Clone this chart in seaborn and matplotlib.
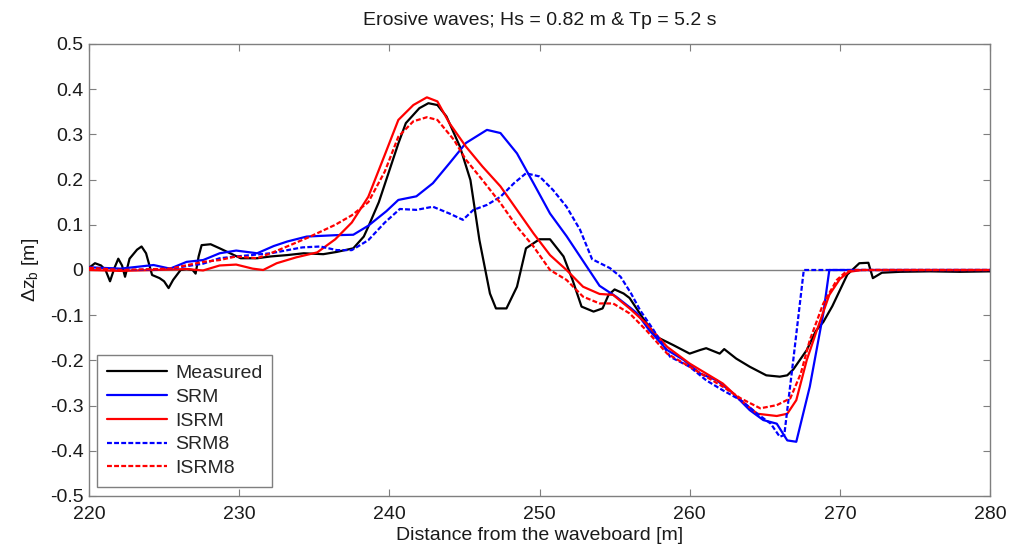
import numpy as np
import pandas as pd
import matplotlib
matplotlib.use("Agg")
import matplotlib.pyplot as plt
import seaborn as sns

# ---------------- data ----------------
meas_x = [220.0, 220.4, 220.8, 221.1, 221.4, 221.7, 221.95, 222.2, 222.4, 222.7, 223.2, 223.5, 223.8,
          224.2, 224.7, 225.0, 225.3, 225.6, 226.1, 226.5, 226.9, 227.1, 227.3, 227.5, 228.1, 228.7,
          229.4, 230.1, 231.2, 232.1, 233.2, 234.3, 235.6, 236.5, 237.6, 238.3, 238.6, 239.3, 240.0,
          240.6, 241.1, 242.0, 242.6, 243.2, 243.8, 244.7, 245.4, 246.0, 246.7, 247.1, 247.8, 248.5,
          249.1, 250.0, 250.7, 251.6, 252.2, 252.8, 253.6, 254.2, 254.6, 255.0, 255.6, 256.0, 256.9,
          257.8, 258.9, 260.0, 260.7, 261.1, 262.0, 262.3, 263.1, 264.0, 265.1, 266.0, 266.5, 266.9,
          267.8, 268.4, 268.9, 269.5, 270.0, 270.5, 271.3, 271.9, 272.2, 272.8, 274.0, 276.0, 278.0, 280.0]
meas_y = [0.005, 0.015, 0.010, 0.0, -0.025, 0.005, 0.025, 0.010, -0.015, 0.025, 0.045, 0.052, 0.037,
          -0.011, -0.018, -0.025, -0.040, -0.022, 0.0, 0.002, 0.0, -0.008, 0.03, 0.055, 0.057, 0.048,
          0.037, 0.026, 0.026, 0.030, 0.033, 0.037, 0.035, 0.040, 0.048, 0.074, 0.096, 0.15, 0.22,
          0.28, 0.325, 0.358, 0.369, 0.365, 0.340, 0.273, 0.199, 0.066, -0.052, -0.085, -0.085, -0.037,
          0.048, 0.068, 0.068, 0.030, -0.022, -0.081, -0.092, -0.085, -0.055, -0.043, -0.052, -0.062, -0.107,
          -0.148, -0.166, -0.185, -0.177, -0.173, -0.185, -0.175, -0.196, -0.214, -0.233, -0.236, -0.233, -0.220,
          -0.177, -0.135, -0.115, -0.080, -0.045, -0.010, 0.015, 0.016, -0.018, -0.006, -0.004, -0.003, -0.004, -0.003]

srm_x = [220.0, 222.1, 224.3, 225.4, 226.5, 227.6, 228.7, 229.8, 231.2, 232.3, 233.2, 234.5, 236.4,
         237.6, 238.6, 239.8, 240.6, 241.8, 242.9, 244.0, 245.1, 246.5, 247.4, 248.5, 249.6, 250.7,
         251.8, 252.9, 254.0, 255.1, 256.1, 256.5, 257.3, 258.5, 259.6, 260.7, 261.8, 262.9, 264.0,
         264.9, 265.8, 266.5, 267.1, 268.0, 268.9, 269.3, 280.0]
srm_y = [0.006, 0.003, 0.011, 0.003, 0.018, 0.022, 0.037, 0.043, 0.037, 0.053, 0.063, 0.074, 0.077,
         0.078, 0.098, 0.130, 0.155, 0.163, 0.192, 0.236, 0.281, 0.310, 0.303, 0.258, 0.192, 0.125,
         0.075, 0.020, -0.035, -0.059, -0.085, -0.096, -0.133, -0.177, -0.199, -0.229, -0.244, -0.273, -0.310,
         -0.332, -0.340, -0.377, -0.380, -0.258, -0.096, 0.0, 0.0]

isrm_x = [220.0, 222.1, 224.3, 226.5, 227.6, 228.7, 229.8, 230.9, 231.6, 232.5, 233.8, 235.2, 236.4,
          237.5, 238.6, 239.7, 240.6, 241.6, 242.5, 243.2, 244.0, 245.1, 246.2, 247.4, 248.5, 249.6,
          250.7, 251.8, 252.9, 254.0, 254.9, 256.0, 257.1, 258.5, 260.0, 261.1, 262.2, 263.4, 264.5,
          265.8, 266.5, 267.1, 267.8, 268.4, 269.3, 270.0, 270.6, 271.5, 280.0]
isrm_y = [0.0, -0.002, 0.0, 0.002, -0.001, 0.010, 0.012, 0.003, 0.0, 0.015, 0.028, 0.039, 0.068,
          0.105, 0.162, 0.255, 0.332, 0.365, 0.382, 0.373, 0.325, 0.273, 0.229, 0.185, 0.133, 0.081,
          0.033, 0.0, -0.037, -0.053, -0.055, -0.085, -0.118, -0.170, -0.207, -0.229, -0.251, -0.288, -0.318,
          -0.323, -0.318, -0.288, -0.199, -0.140, -0.055, -0.020, -0.004, 0.0, 0.0]

srm8_x = [220.0, 223.2, 225.4, 227.6, 228.7, 229.8, 232.1, 234.2, 235.4, 236.5, 237.5, 238.6, 239.7,
          240.7, 241.8, 242.9, 244.0, 244.9, 245.6, 246.5, 247.4, 248.3, 249.1, 250.0, 250.9, 251.8,
          252.7, 253.5, 254.7, 255.4, 256.1, 256.7, 257.6, 258.7, 260.0, 261.1, 262.2, 263.4, 264.5,
          265.4, 266.0, 266.3, 266.9, 267.6, 280.0]
srm8_y = [0.005, 0.0, 0.003, 0.014, 0.026, 0.030, 0.037, 0.050, 0.052, 0.044, 0.044, 0.066, 0.105,
          0.135, 0.133, 0.140, 0.125, 0.111, 0.133, 0.144, 0.162, 0.192, 0.214, 0.207, 0.177, 0.140,
          0.089, 0.024, 0.004, -0.015, -0.052, -0.089, -0.133, -0.192, -0.214, -0.244, -0.266, -0.288, -0.318,
          -0.340, -0.369, -0.365, -0.199, 0.0, 0.0]

isrm8_x = [220.0, 222.1, 225.4, 227.6, 228.7, 229.8, 231.2, 232.1, 233.4, 234.6, 236.4, 237.5, 238.6,
           239.7, 240.6, 241.6, 242.5, 243.2, 244.3, 245.1, 246.2, 247.4, 248.5, 249.6, 250.7, 251.8,
           252.9, 254.0, 254.9, 256.0, 257.1, 258.5, 260.0, 261.1, 262.2, 263.4, 264.7, 265.8, 266.7,
           267.4, 268.0, 268.9, 269.8, 270.4, 271.0, 280.0]
isrm8_y = [0.005, 0.0, 0.003, 0.018, 0.022, 0.030, 0.026, 0.037, 0.055, 0.072, 0.100, 0.121, 0.150,
           0.218, 0.295, 0.329, 0.338, 0.332, 0.288, 0.244, 0.199, 0.148, 0.096, 0.052, 0.0, -0.022,
           -0.059, -0.074, -0.074, -0.096, -0.133, -0.185, -0.214, -0.236, -0.258, -0.284, -0.306, -0.299, -0.284,
           -0.229, -0.155, -0.074, -0.022, -0.004, 0.0, 0.0]

x_ticks = [220, 230, 240, 250, 260, 270, 280]
y_ticks = [-0.5, -0.4, -0.3, -0.2, -0.1, 0, 0.1, 0.2, 0.3, 0.4, 0.5]
y_tick_labels = ["-0.5", "-0.4", "-0.3", "-0.2", "-0.1", "0", "0.1", "0.2", "0.3", "0.4", "0.5"]

series = [
    ("Measured", meas_x, meas_y, "#000000", None),
    ("SRM", srm_x, srm_y, "#0000ff", None),
    ("ISRM", isrm_x, isrm_y, "#ff0000", None),
    ("SRM8", srm8_x, srm8_y, "#0000ff", (2.2, 1.0)),
    ("ISRM8", isrm8_x, isrm8_y, "#ff0000", (2.2, 1.0)),
]

# ---------------- style ----------------
sns.set_style("white")
plt.rcParams["font.family"] = ["Liberation Sans", "DejaVu Sans"]
plt.rcParams["mathtext.default"] = "regular"
plt.rcParams["axes.unicode_minus"] = False

fig = plt.figure(figsize=(10.1, 5.5), dpi=100)
ax = fig.add_axes([89 / 1010, 54 / 550, 901 / 1010, 452 / 550])

ax.axhline(0, color="#808080", lw=1.0, zorder=1)

for name, xs, ys, col, dash in series:
    df = pd.DataFrame({"x": xs, "y": ys})
    sns.lineplot(data=df, x="x", y="y", ax=ax, color=col, lw=1.6, label=name,
                 sort=False, estimator=None, zorder=3)
    if dash is not None:
        ax.lines[-1].set_dashes(dash)

ax.set_xlim(220, 280)
ax.set_ylim(-0.5, 0.5)
ax.set_xticks(x_ticks)
ax.set_xticklabels([str(t) for t in x_ticks])
ax.set_yticks(y_ticks)
ax.set_yticklabels(y_tick_labels)

fs = 14
ax.tick_params(axis="both", which="both", direction="in", length=5, width=0.8,
               color="#7f7f7f", labelsize=fs, labelcolor="#1a1a1a",
               top=True, right=True, bottom=True, left=True)
ax.tick_params(axis="x", pad=7)
ax.tick_params(axis="y", pad=4)
for s in ax.spines.values():
    s.set_color("#7f7f7f")
    s.set_linewidth(1.0)

ax.set_xlabel("Distance from the waveboard [m]", fontsize=fs, color="#1a1a1a", labelpad=3)
ax.set_ylabel("Δz$_{b}$ [m]", fontsize=fs, color="#1a1a1a", labelpad=6)
ax.set_title("Erosive waves; Hs = 0.82 m & Tp = 5.2 s", fontsize=fs, color="#1a1a1a", pad=14)

leg = ax.legend(loc="lower left", bbox_to_anchor=(0.009, 0.02), borderaxespad=0,
                fontsize=fs, frameon=True, fancybox=False, framealpha=1,
                edgecolor="#7f7f7f", handlelength=3.1, handletextpad=0.4,
                labelspacing=0.32, borderpad=0.5)
leg.get_frame().set_linewidth(1.0)

fig.savefig("out.png", dpi=100)
